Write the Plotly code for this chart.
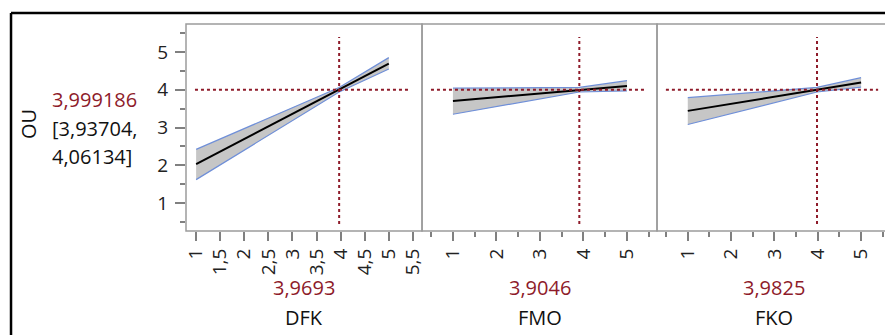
import plotly.graph_objects as go

# ---- data ----
factors = ["DFK", "FMO", "FKO"]
current_x = [3.9693, 3.9046, 3.9825]
current_x_text = ["3,9693", "3,9046", "3,9825"]
pred_value = 3.999186
pred_text = "3,999186"
ci_text = ["[3,93704,", "4,06134]"]
response = "OU"

x_dfk = [1, 3.9693, 5]
mean_dfk = [2.03, 4.0, 4.69]
upper_dfk = [2.42, 4.06, 4.85]
lower_dfk = [1.62, 3.94, 4.55]

x_fmo = [1, 3.9046, 5]
mean_fmo = [3.70, 4.0, 4.10]
upper_fmo = [4.04, 4.06, 4.24]
lower_fmo = [3.35, 3.94, 3.97]

x_fko = [1, 3.9825, 5]
mean_fko = [3.44, 4.0, 4.19]
upper_fko = [3.79, 4.06, 4.32]
lower_fko = [3.08, 3.94, 4.07]

y_tickvals = [1, 2, 3, 4, 5]
y_ticktext = ["1", "2", "3", "4", "5"]
y_minor = [0.5, 1.5, 2.5, 3.5, 4.5, 5.5]

x1_tickvals = [1, 1.5, 2, 2.5, 3, 3.5, 4, 4.5, 5, 5.5]
x1_ticktext = ["1", "1,5", "2", "2,5", "3", "3,5", "4", "4,5", "5", "5,5"]
x23_tickvals = [1, 2, 3, 4, 5]
x23_ticktext = ["1", "2", "3", "4", "5"]
x23_minor = [0.5, 1.5, 2.5, 3.5, 4.5, 5.5]

panels = [
    (x_dfk, mean_dfk, upper_dfk, lower_dfk),
    (x_fmo, mean_fmo, upper_fmo, lower_fmo),
    (x_fko, mean_fko, upper_fko, lower_fko),
]

RED = "#8E1B2A"
FONT = "Open Sans"
BAND = "#c6c6c6"
EDGE = "#6f8fd8"
BORDER = "#9c9c9c"

fig = go.Figure()
axes_names = ["x", "x2", "x3"]
for i, (xs, m, up, lo) in enumerate(panels):
    xa = axes_names[i]
    fig.add_trace(go.Scatter(x=xs, y=lo, xaxis=xa, yaxis="y", mode="lines",
                             line=dict(color=EDGE, width=1.2), hoverinfo="skip", showlegend=False))
    fig.add_trace(go.Scatter(x=xs, y=up, xaxis=xa, yaxis="y", mode="lines",
                             line=dict(color=EDGE, width=1.2), fill="tonexty", fillcolor=BAND,
                             hoverinfo="skip", showlegend=False))
    fig.add_trace(go.Scatter(x=xs, y=m, xaxis=xa, yaxis="y", mode="lines",
                             line=dict(color="black", width=2), showlegend=False))

domains = [[0, 0.3348], [0.3348, 0.6681], [0.6681, 1.0]]
tickfont = dict(family=FONT, size=19, color="#222222")

common_x = dict(showgrid=False, zeroline=False, showline=False, ticks="outside",
                ticklen=9, tickwidth=1.5, tickcolor="#808080", tickangle=-90,
                tickfont=tickfont, anchor="y", fixedrange=True, automargin=False)

fig.update_layout(
    xaxis=dict(domain=domains[0], range=[0.79, 5.69], tickmode="array",
               tickvals=x1_tickvals, ticktext=x1_ticktext, **common_x),
    xaxis2=dict(domain=domains[1], range=[0.29, 5.69], tickmode="array",
                tickvals=x23_tickvals, ticktext=x23_ticktext,
                minor=dict(tickvals=x23_minor, ticks="outside", ticklen=5, tickwidth=1.5, tickcolor="#808080"),
                **common_x),
    xaxis3=dict(domain=domains[2], range=[0.29, 5.69], tickmode="array",
                tickvals=x23_tickvals, ticktext=x23_ticktext,
                minor=dict(tickvals=x23_minor, ticks="outside", ticklen=5, tickwidth=1.5, tickcolor="#808080"),
                **common_x),
    yaxis=dict(range=[0.26, 5.74], tickmode="array", tickvals=y_tickvals, ticktext=y_ticktext,
               showgrid=False, zeroline=False, showline=False, ticks="outside", ticklen=10,
               tickwidth=1.5, tickcolor="#808080", tickfont=tickfont, fixedrange=True, automargin=False,
               ticklabelstandoff=3,
               minor=dict(tickvals=y_minor, ticks="outside", ticklen=5, tickwidth=1.5, tickcolor="#808080")),
    width=885, height=327,
    margin=dict(l=178, r=2, t=16, b=104),
    paper_bgcolor="white", plot_bgcolor="white",
    showlegend=False,
)

shapes = []
for i, xa in enumerate(axes_names):
    shapes.append(dict(type="rect", xref=f"{xa} domain", yref="y domain", x0=0, x1=1, y0=0, y1=1,
                       line=dict(color=BORDER, width=1.5), layer="above"))
    shapes.append(dict(type="line", xref=f"{xa} domain", yref="y", x0=0.038, x1=0.945,
                       y0=pred_value, y1=pred_value,
                       line=dict(color=RED, width=2, dash="3px,3px"), layer="above"))
    shapes.append(dict(type="line", xref=xa, yref="y domain", x0=current_x[i], x1=current_x[i],
                       y0=0.034, y1=0.937,
                       line=dict(color=RED, width=2, dash="3px,3px"), layer="above"))

# outer black frame (top and left edges visible)
shapes.append(dict(type="line", xref="paper", yref="paper", x0=-0.2482, x1=1.05, y0=1.053, y1=1.053,
                   line=dict(color="black", width=2.5)))
shapes.append(dict(type="line", xref="paper", yref="paper", x0=-0.2482, x1=-0.2482, y0=1.053, y1=-1.0,
                   line=dict(color="black", width=2.5)))
fig.update_layout(shapes=shapes)

annotations = []
for i, xa in enumerate(axes_names):
    center = (domains[i][0] + domains[i][1]) / 2
    annotations.append(dict(xref="paper", yref="paper", x=center, y=-0.275, text=current_x_text[i],
                            showarrow=False, font=dict(family=FONT, size=20, color=RED),
                            xanchor="center", yanchor="middle"))
    annotations.append(dict(xref="paper", yref="paper", x=center, y=-0.42, text=factors[i],
                            showarrow=False, font=dict(family=FONT, size=20, color="#111111"),
                            xanchor="center", yanchor="middle"))

annotations.append(dict(xref="paper", yref="paper", x=-0.193, y=(231 - 100) / 207, text=pred_text,
                        showarrow=False, font=dict(family=FONT, size=20, color=RED),
                        xanchor="left", yanchor="middle"))
annotations.append(dict(xref="paper", yref="paper", x=-0.193, y=(231 - 128) / 207, text=ci_text[0],
                        showarrow=False, font=dict(family=FONT, size=20, color="#111111"),
                        xanchor="left", yanchor="middle"))
annotations.append(dict(xref="paper", yref="paper", x=-0.193, y=(231 - 156) / 207, text=ci_text[1],
                        showarrow=False, font=dict(family=FONT, size=20, color="#111111"),
                        xanchor="left", yanchor="middle"))
annotations.append(dict(xref="paper", yref="paper", x=(28 - 186) / 705, y=(231 - 124) / 207, text=response,
                        showarrow=False, textangle=-90, font=dict(family=FONT, size=20, color="#111111"),
                        xanchor="center", yanchor="middle"))
fig.update_layout(annotations=annotations)

fig.write_html("out.html")
